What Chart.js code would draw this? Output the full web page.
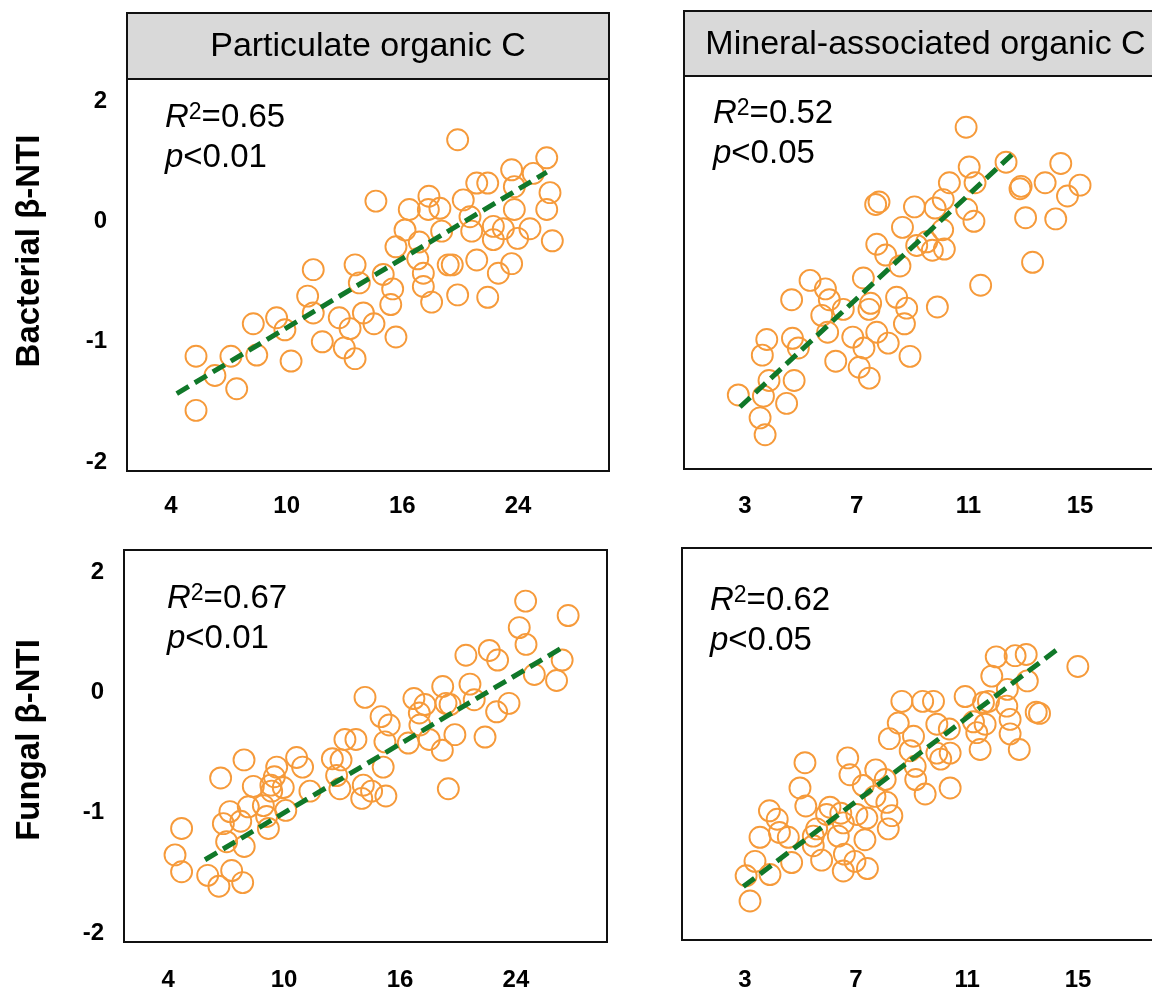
<!DOCTYPE html>
<html>
<head>
<meta charset="utf-8">
<script src="https://cdn.jsdelivr.net/npm/chart.js@4.4.1/dist/chart.umd.min.js"></script>
<style>
  html, body { margin: 0; padding: 0; background: #fff; }
  body { width: 1152px; height: 990px; position: relative; overflow: hidden; }
  canvas { position: absolute; }
</style>
</head>
<body>
<canvas id="pocBac" width="640" height="535" style="left:0;top:0"></canvas>
<canvas id="maocBac" width="560" height="535" style="left:640px;top:0"></canvas>
<canvas id="pocFun" width="640" height="490" style="left:0;top:500px"></canvas>
<canvas id="maocFun" width="560" height="490" style="left:640px;top:500px"></canvas>
<script>
// tick labels (the picture's axes are evenly spaced, so labels are mapped onto even positions)
const yTickValues = [-2, -1, 0, 1];
const yTickLabels = ['-2', '-1', '0', '2'];
const pocTickValues = [4, 10, 16, 22];
const pocTickLabels = ['4', '10', '16', '24'];
const maocTickValues = [3, 7, 11, 15];
const maocTickLabels = ['3', '7', '11', '15'];

// Bacterial beta-NTI vs particulate organic C
const pocBacX = [18.87,14.63,21.67,23.49,19.86,20.43,21.81,22.79,23.66,23.49,21.81,19.16,17.38,17.35,17.95,16.36,19.51,16.14,18.04,19.6,20.72,21.24,22.62,21.98,20.72,23.78,16.88,15.67,16.8,18.38,18.59,19.86,21.67,20.98,17.09,17.09,15.01,15.5,13.77,13.55,11.38,11.09,18.87,20.43,17.52,15.4,11.38,13.98,12.73,14.53,13.29,9.48,9.91,8.27,11.85,12.99,13.55,15.67,8.45,10.23,7.11,5.3,6.28,7.41,5.3];
const pocBacY = [0.68,0.17,0.43,0.53,0.32,0.32,0.29,0.40,0.24,0.10,0.10,0.18,0.21,0.10,0.11,0.10,0.04,-0.07,-0.08,-0.08,-0.04,-0.06,-0.06,-0.14,-0.15,-0.16,-0.17,-0.21,-0.31,-0.36,-0.36,-0.32,-0.35,-0.43,-0.43,-0.54,-0.44,-0.56,-0.51,-0.36,-0.40,-0.62,-0.61,-0.63,-0.67,-0.69,-0.76,-0.76,-0.80,-0.85,-0.89,-0.80,-0.90,-0.85,-1.00,-1.05,-1.14,-0.96,-1.11,-1.16,-1.12,-1.12,-1.28,-1.39,-1.57];
const pocBacFitX = [4.3, 23.49];
const pocBacFitY = [-1.43, 0.41];

// Bacterial beta-NTI vs mineral-associated organic C
const maocBacX = [10.92,12.35,11.03,11.24,10.32,10.1,9.81,10.94,11.2,14.31,12.89,12.85,13.75,15.0,14.55,13.05,14.13,13.3,11.44,7.8,7.68,9.07,8.64,10.08,7.72,8.04,9.15,9.51,9.71,10.14,8.55,7.24,5.33,5.88,6.02,4.67,7.5,7.44,8.43,8.79,9.89,6.52,5.75,5.96,6.86,7.72,8.13,8.71,8.91,7.26,6.25,7.09,7.45,4.7,4.91,3.78,3.62,3.86,4.76,3.66,4.49,2.76,3.54,3.72];
const maocBacY = [0.76,0.47,0.43,0.30,0.30,0.16,0.09,0.08,-0.02,0.46,0.27,0.25,0.30,0.28,0.19,0.01,0.00,-0.36,-0.55,0.14,0.12,0.10,-0.07,-0.09,-0.21,-0.30,-0.22,-0.19,-0.26,-0.25,-0.39,-0.49,-0.51,-0.58,-0.67,-0.67,-0.70,-0.75,-0.65,-0.74,-0.73,-0.75,-0.80,-0.94,-0.98,-0.94,-1.03,-0.87,-1.14,-1.07,-1.18,-1.23,-1.32,-0.99,-1.07,-1.00,-1.13,-1.34,-1.34,-1.47,-1.53,-1.46,-1.65,-1.79];
const maocBacFitX = [2.82, 12.73];
const maocBacFitY = [-1.56, 0.57];

// Fungal beta-NTI vs particulate organic C
const pocFunX = [22.5,24.7,22.17,22.52,19.41,20.62,21.05,24.39,22.95,24.1,18.21,19.62,19.84,21.64,21.0,14.19,16.72,17.29,17.0,18.38,18.59,15.02,15.44,17.03,17.51,18.84,18.19,16.43,20.4,15.22,15.13,18.5,13.15,13.72,12.5,12.95,12.72,12.89,14.1,14.02,14.53,15.27,11.34,10.65,10.96,9.62,9.5,7.93,6.72,8.41,9.32,9.96,9.36,10.09,8.15,8.93,7.2,6.86,7.76,9.1,9.19,7.03,7.94,4.7,4.36,4.7,6.05,6.63,7.29,7.86];
const pocFunY = [0.76,0.64,0.54,0.40,0.31,0.35,0.27,0.27,0.15,0.10,0.05,0.07,-0.06,-0.09,-0.16,-0.04,-0.05,-0.10,-0.17,-0.09,-0.10,-0.20,-0.27,-0.27,-0.39,-0.35,-0.48,-0.42,-0.37,-0.41,-0.62,-0.80,-0.39,-0.39,-0.55,-0.56,-0.69,-0.80,-0.77,-0.88,-0.82,-0.86,-0.82,-0.54,-0.62,-0.62,-0.70,-0.56,-0.71,-0.78,-0.77,-0.79,-0.82,-0.98,-0.95,-0.94,-0.99,-1.09,-1.07,-1.03,-1.13,-1.24,-1.28,-1.13,-1.35,-1.49,-1.52,-1.61,-1.48,-1.58];
const pocFunFitX = [5.91, 24.36];
const pocFunFitY = [-1.39, 0.37];

// Fungal beta-NTI vs mineral-associated organic C
const maocFunX = [14.99,12.05,12.73,13.13,11.89,13.17,12.45,10.93,11.77,11.59,12.43,13.49,13.61,12.55,11.23,11.65,12.55,11.35,11.47,12.88,8.65,9.4,9.79,8.52,9.91,10.36,9.07,8.2,8.95,9.91,10.05,10.39,9.13,9.15,9.49,10.39,6.7,6.78,5.16,7.71,8.05,7.26,7.68,8.11,4.98,5.19,3.88,4.16,6.06,5.94,6.45,7.03,7.39,8.29,8.16,7.32,6.54,5.58,5.46,4.24,4.56,3.54,5.46,6.36,5.76,6.58,6.96,6.54,7.41,3.36,4.68,3.9,3.04,3.18];
const maocFunY = [0.20,0.28,0.29,0.30,0.12,0.08,0.01,-0.05,-0.09,-0.10,-0.13,-0.18,-0.19,-0.24,-0.26,-0.28,-0.36,-0.35,-0.49,-0.49,-0.09,-0.09,-0.09,-0.27,-0.28,-0.32,-0.38,-0.40,-0.50,-0.52,-0.57,-0.52,-0.63,-0.74,-0.86,-0.81,-0.56,-0.70,-0.60,-0.66,-0.74,-0.79,-0.88,-0.93,-0.81,-0.96,-1.00,-1.07,-0.97,-1.03,-1.02,-1.03,-1.06,-1.04,-1.15,-1.24,-1.10,-1.15,-1.21,-1.18,-1.22,-1.22,-1.29,-1.21,-1.41,-1.36,-1.42,-1.50,-1.48,-1.42,-1.43,-1.53,-1.54,-1.75];
const maocFunFitX = [2.94, 14.35];
const maocFunFitY = [-1.63, 0.36];

const FAMILY = "'Liberation Sans', Arial, Helvetica, sans-serif";
const ORANGE = '#F69A3A';
const GREEN = '#107829';

Chart.defaults.font.family = FAMILY;

// draws the grey strip title, the frame, the R2 / p text and the row title
const panelFrame = {
  id: 'panelFrame',
  afterDraw(chart, args, o) {
    const {ctx, chartArea: a} = chart;
    const w = a.right - a.left;
    ctx.save();
    ctx.strokeStyle = '#111';
    ctx.lineWidth = 2;

    if (o.header) {
      const top = a.top - o.headerHeight;
      ctx.fillStyle = '#d9d9d9';
      ctx.fillRect(a.left, top, w, o.headerHeight);
      ctx.strokeRect(a.left, top, w, o.headerHeight);
      ctx.fillStyle = '#000';
      ctx.font = '34px ' + FAMILY;
      ctx.textAlign = 'center';
      ctx.textBaseline = 'middle';
      ctx.fillText(o.header, a.left + w / 2, top + o.headerHeight / 2 + 1);
    }
    ctx.strokeRect(a.left, a.top, w, a.bottom - a.top);

    // R2 and p
    const sx = a.left + o.statPos[0];
    const sy = a.top + o.statPos[1];
    ctx.fillStyle = '#000';
    ctx.textAlign = 'left';
    ctx.textBaseline = 'alphabetic';
    ctx.font = 'italic 33px ' + FAMILY;
    ctx.fillText('R', sx, sy);
    let x = sx + ctx.measureText('R').width;
    ctx.font = '23px ' + FAMILY;
    ctx.fillText('2', x, sy - 8);
    x += ctx.measureText('2').width;
    ctx.font = '33px ' + FAMILY;
    ctx.fillText('=' + o.r2, x, sy);

    ctx.font = 'italic 33px ' + FAMILY;
    ctx.fillText('p', sx, sy + 40);
    x = sx + ctx.measureText('p').width;
    ctx.font = '33px ' + FAMILY;
    ctx.fillText('<' + o.p, x, sy + 40);

    if (o.yTitle) {
      ctx.translate(o.yTitlePos[0], o.yTitlePos[1]);
      ctx.rotate(-Math.PI / 2);
      ctx.font = 'bold 33px ' + FAMILY;
      ctx.textAlign = 'center';
      ctx.textBaseline = 'middle';
      ctx.fillText(o.yTitle, 0, 0);
    }
    ctx.restore();
  }
};

const panels = [
  {
    id: 'pocBac', xs: pocBacX, ys: pocBacY, fitX: pocBacFitX, fitY: pocBacFitY,
    r2: '0.65', p: '0.01', xMin: 1.72, xMax: 26.72,
    xTicks: pocTickValues, xLabels: pocTickLabels, showY: true,
    area: {left: 127, top: 79, right: 31, bottom: 64}, xPad: 21,
    header: 'Particulate organic C', headerHeight: 66,
    yTitle: 'Bacterial β-NTI', yTitlePos: [30, 251], statPos: [38, 48]
  },
  {
    id: 'maocBac', xs: maocBacX, ys: maocBacY, fitX: maocBacFitX, fitY: maocBacFitY,
    r2: '0.52', p: '0.05', xMin: 0.815, xMax: 18.115,
    xTicks: maocTickValues, xLabels: maocTickLabels, showY: false,
    area: {left: 44, top: 76, right: 33, bottom: 66}, xPad: 23,
    header: 'Mineral-associated organic C', headerHeight: 65,
    yTitle: null, yTitlePos: [0, 0], statPos: [29, 47]
  },
  {
    id: 'pocFun', xs: pocFunX, ys: pocFunY, fitX: pocFunFitX, fitY: pocFunFitY,
    r2: '0.67', p: '0.01', xMin: 1.72, xMax: 26.71,
    xTicks: pocTickValues, xLabels: pocTickLabels, showY: true,
    area: {left: 124, top: 50, right: 33, bottom: 48}, xPad: 24,
    header: null, headerHeight: 0,
    yTitle: 'Fungal β-NTI', yTitlePos: [30, 240], statPos: [43, 58]
  },
  {
    id: 'maocFun', xs: maocFunX, ys: maocFunY, fitX: maocFunFitX, fitY: maocFunFitY,
    r2: '0.62', p: '0.05', xMin: 0.73, xMax: 18.13,
    xTicks: maocTickValues, xLabels: maocTickLabels, showY: false,
    area: {left: 42, top: 48, right: 35, bottom: 50}, xPad: 26,
    header: null, headerHeight: 0,
    yTitle: null, yTitlePos: [0, 0], statPos: [28, 62]
  }
];

const tickFont = {size: 24, weight: 'bold', family: FAMILY};

panels.forEach(p => {
  new Chart(document.getElementById(p.id), {
    type: 'scatter',
    data: {
      datasets: [
        {
          type: 'line',
          data: p.fitX.map((x, i) => ({x, y: p.fitY[i]})),
          borderColor: GREEN,
          borderWidth: 5,
          borderDash: [14, 7],
          pointRadius: 0,
          fill: false,
          order: 0
        },
        {
          data: p.xs.map((x, i) => ({x, y: p.ys[i]})),
          pointRadius: 10.5,
          pointBorderWidth: 1.9,
          pointBorderColor: ORANGE,
          pointBackgroundColor: 'rgba(0,0,0,0)',
          borderColor: ORANGE,
          backgroundColor: 'rgba(0,0,0,0)',
          order: 1
        }
      ]
    },
    options: {
      responsive: false,
      animation: false,
      devicePixelRatio: 1,
      events: [],
      layout: {padding: {top: p.area.top, right: p.area.right, left: 0, bottom: 0}},
      plugins: {
        legend: {display: false},
        tooltip: {enabled: false},
        panelFrame: {
          header: p.header, headerHeight: p.headerHeight, r2: p.r2, p: p.p,
          statPos: p.statPos, yTitle: p.yTitle, yTitlePos: p.yTitlePos
        }
      },
      scales: {
        x: {
          type: 'linear',
          min: p.xMin,
          max: p.xMax,
          grid: {display: false, drawTicks: false},
          border: {display: false},
          afterBuildTicks: axis => { axis.ticks = p.xTicks.map(v => ({value: v})); },
          afterFit: scale => { scale.height = p.area.bottom; },
          ticks: {
            padding: p.xPad, autoSkip: false, maxRotation: 0, color: '#000', font: tickFont,
            callback: (v, i) => p.xLabels[i]
          }
        },
        y: {
          type: 'linear',
          min: -2.074,
          max: 1.185,
          grid: {display: false, drawTicks: false},
          border: {display: false},
          afterBuildTicks: axis => { axis.ticks = yTickValues.map(v => ({value: v})); },
          afterFit: scale => { scale.width = p.area.left; },
          ticks: {
            display: p.showY, padding: 20, autoSkip: false, color: '#000', font: tickFont,
            callback: (v, i) => yTickLabels[i]
          }
        }
      }
    },
    plugins: [panelFrame]
  });
});
</script>
</body>
</html>
